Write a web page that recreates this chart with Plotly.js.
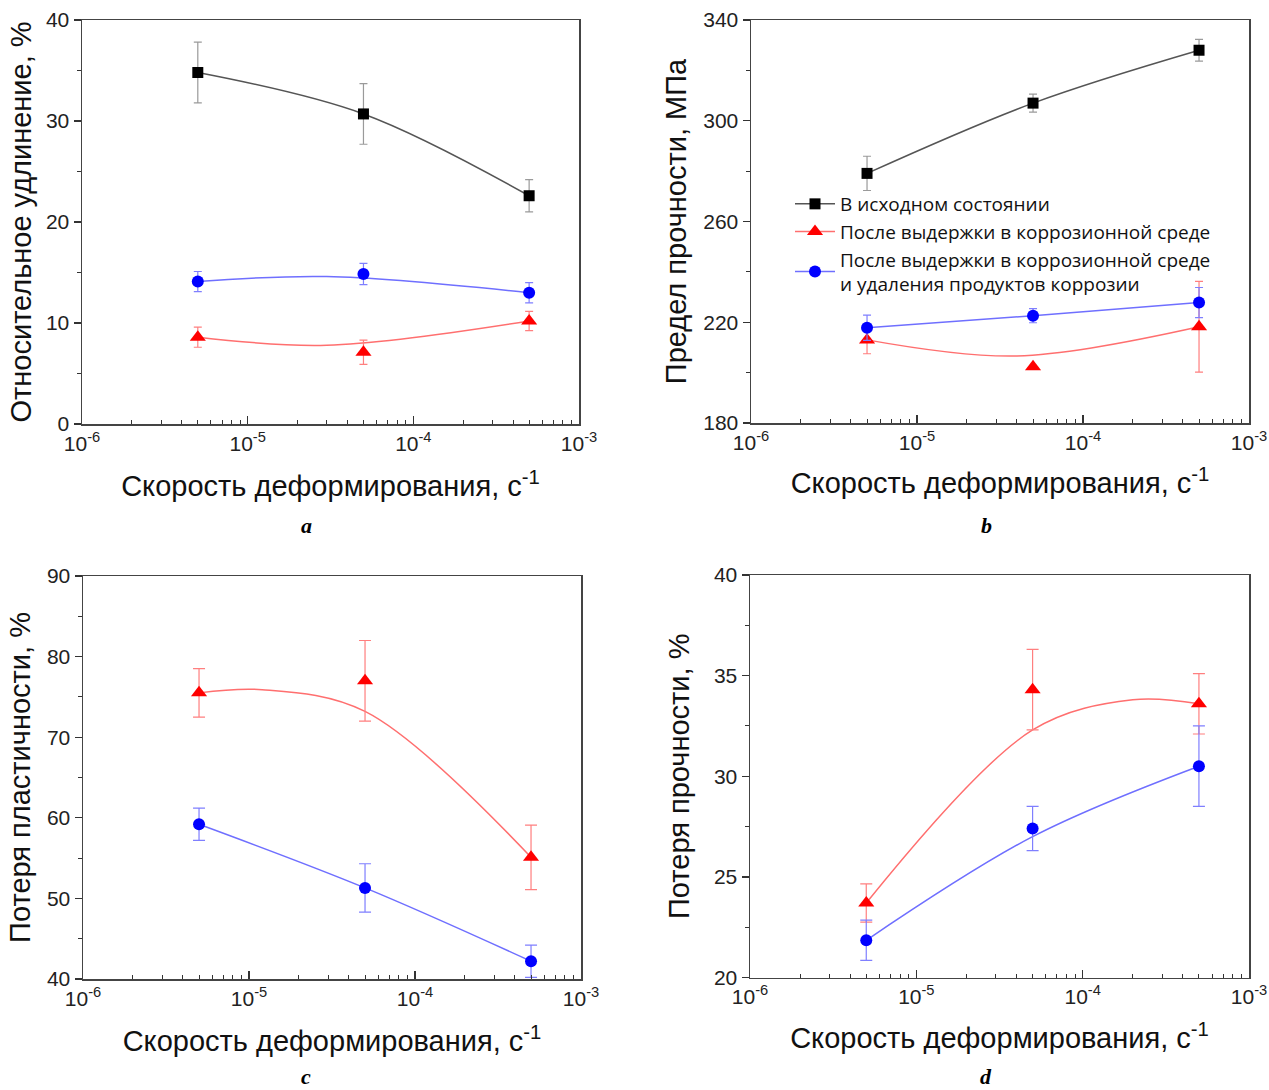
<!DOCTYPE html>
<html><head><meta charset="utf-8">
<script src="https://cdn.plot.ly/plotly-3.0.1.min.js"></script>
<style>body{margin:0;background:#fff}#chart{width:1269px;height:1090px}</style>
</head><body><div id="chart"></div>
<script>
// ---------- data ----------
const strainRate = [5e-6, 5e-5, 5e-4];
const xTickVals = [1e-6, 1e-5, 1e-4, 1e-3];
const xTickText = ['10<sup>-6</sup>', '10<sup>-5</sup>', '10<sup>-4</sup>', '10<sup>-3</sup>'];
const seriesNames = ['В исходном состоянии', 'После выдержки в коррозионной среде',
  'После выдержки в коррозионной среде<br>и удаления продуктов коррозии'];
const xTitle = 'Скорость деформирования, с<sup>-1</sup>';
const yTitles = ['Относительное удлинение, %', 'Предел прочности, МПа', 'Потеря пластичности, %', 'Потеря прочности, %'];
const panelLabels = ['a', 'b', 'c', 'd'];

// (a) elongation
const elongInitial = [34.8, 30.7, 22.6];
const elongInitialErr = [3.0, 3.0, 1.6];
const elongCorr = [8.6, 7.1, 10.2];
const elongCorrErr = [1.0, 1.2, 0.95];
const elongClean = [14.1, 14.85, 13.0];
const elongCleanErr = [1.0, 1.05, 1.0];
// smoothed curves
const elongInitialCurveX = [5e-6, 5e-5, 5e-4];
const elongInitialCurve = [34.8, 30.7, 22.6];
const elongCorrCurveX = [5e-6, 3e-5, 5e-4];
const elongCorrCurve = [8.6, 7.8, 10.2];
const elongCleanCurveX = [5e-6, 3e-5, 5e-4];
const elongCleanCurve = [14.1, 14.6, 13.0];

// (b) strength, MPa
const strengthInitial = [279.1, 307.0, 328.0];
const strengthInitialErr = [6.8, 3.6, 4.3];
const strengthCorr = [213.0, 202.3, 218.2];
const strengthCorrErr = [5.5, 0, 18.0];
const strengthClean = [217.8, 222.6, 227.8];
const strengthCleanErr = [5.0, 2.8, 6.0];
const strengthInitialCurveX = [5e-6, 5e-5, 5e-4];
const strengthInitialCurve = [279.1, 307.0, 328.0];
const strengthCorrCurveX = [5e-6, 4e-5, 5e-4];
const strengthCorrCurve = [213.0, 206.6, 218.2];
const strengthCleanCurveX = [5e-6, 5e-5, 5e-4];
const strengthCleanCurve = [217.8, 222.6, 227.8];

// (c) ductility loss, %
const ductLossCorr = [75.5, 77.0, 55.1];
const ductLossCorrErr = [3.0, 5.0, 4.0];
const ductLossClean = [59.2, 51.3, 42.2];
const ductLossCleanErr = [2.0, 3.0, 2.0];
const ductLossCorrCurveX = [5e-6, 1.2e-5, 5e-5, 5e-4];
const ductLossCorrCurve = [75.5, 75.9, 73.2, 55.1];
const ductLossCleanCurveX = [5e-6, 5e-5, 5e-4];
const ductLossCleanCurve = [59.2, 51.3, 42.2];

// (d) strength loss, %
const strLossCorr = [23.7, 34.3, 33.6];
const strLossCorrErr = [0.95, 2.0, 1.5];
const strLossClean = [21.85, 27.4, 30.5];
const strLossCleanErr = [1.0, 1.1, 2.0];
const strLossCorrCurveX = [5e-6, 5e-5, 2e-4, 5e-4];
const strLossCorrCurve = [23.7, 32.3, 33.8, 33.6];
const strLossCleanCurveX = [5e-6, 5e-5, 5e-4];
const strLossCleanCurve = [21.85, 27.0, 30.5];

// ---------- styles ----------
const STY = {
  black: {mk: '#000000', line: '#555555', err: '#9a9a9a', sym: 'square', size: 11},
  red:   {mk: '#ff0000', line: '#ff6f6f', err: '#ff7f7f', sym: 'triangle-up', size: 14},
  blue:  {mk: '#0000ff', line: '#6f6fff', err: '#7f7fff', sym: 'circle', size: 12}
};

const traces = [];
function addSeries(ax, st, cx, cy, y, err, capw) {
  const s = STY[st];
  traces.push({x: cx, y: cy, xaxis: 'x' + ax, yaxis: 'y' + ax, mode: 'lines', type: 'scatter',
    line: {shape: 'spline', smoothing: 1, color: s.line, width: 1.5}, showlegend: false, hoverinfo: 'skip'});
  traces.push({x: strainRate, y: y, xaxis: 'x' + ax, yaxis: 'y' + ax, mode: 'markers', type: 'scatter',
    marker: {symbol: s.sym, size: s.size, color: s.mk},
    error_y: {type: 'data', array: err, visible: true, color: s.err, thickness: 1.2, width: capw},
    showlegend: false});
}
addSeries('', 'black', elongInitialCurveX, elongInitialCurve, elongInitial, elongInitialErr, 4);
addSeries('', 'red', elongCorrCurveX, elongCorrCurve, elongCorr, elongCorrErr, 4);
addSeries('', 'blue', elongCleanCurveX, elongCleanCurve, elongClean, elongCleanErr, 4);
addSeries('2', 'black', strengthInitialCurveX, strengthInitialCurve, strengthInitial, strengthInitialErr, 4);
addSeries('2', 'red', strengthCorrCurveX, strengthCorrCurve, strengthCorr, strengthCorrErr, 4);
addSeries('2', 'blue', strengthCleanCurveX, strengthCleanCurve, strengthClean, strengthCleanErr, 4);
addSeries('3', 'red', ductLossCorrCurveX, ductLossCorrCurve, ductLossCorr, ductLossCorrErr, 6);
addSeries('3', 'blue', ductLossCleanCurveX, ductLossCleanCurve, ductLossClean, ductLossCleanErr, 6);
addSeries('4', 'red', strLossCorrCurveX, strLossCorrCurve, strLossCorr, strLossCorrErr, 6);
addSeries('4', 'blue', strLossCleanCurveX, strLossCleanCurve, strLossClean, strLossCleanErr, 6);

// legend entries (panel b)
['black', 'red', 'blue'].forEach((st, i) => {
  const s = STY[st];
  traces.push({x: [null], y: [null], xaxis: 'x2', yaxis: 'y2', mode: 'lines+markers', type: 'scatter',
    name: seriesNames[i], line: {color: s.line, width: 1.5},
    marker: {symbol: s.sym, size: s.size, color: s.mk}, showlegend: true});
});

// ---------- layout ----------
const W = 1269, H = 1090;
function px2x(a, b) { return [a / W, b / W]; }
function px2y(top, bot) { return [1 - bot / H, 1 - top / H]; }

const minorVals = [];
for (let e = -6; e < -3; e++) for (let m = 2; m <= 9; m++) minorVals.push(m * Math.pow(10, e));

const fontFam = '"Liberation Sans", Arial, sans-serif';
function xAxis(dom, anchor, standoff) {
  return {domain: dom, anchor: anchor, type: 'log', range: [-6, -3],
    tickmode: 'array', tickvals: xTickVals, ticktext: xTickText,
    ticks: 'inside', ticklen: 8, tickwidth: 1.3, tickcolor: '#333',
    minor: {tickmode: 'array', tickvals: minorVals, ticks: 'inside', ticklen: 4, tickwidth: 1, tickcolor: '#333', showgrid: false},
    showline: true, mirror: true, linecolor: '#444', linewidth: 1.5, showgrid: false, zeroline: false,
    tickfont: {family: fontFam, size: 21, color: '#222'},
    title: {text: xTitle, font: {family: fontFam, size: 29, color: '#111'}, standoff: standoff}};
}
function yAxis(dom, anchor, range, dtick, mdt, title, standoff) {
  return {domain: dom, anchor: anchor, range: range, dtick: dtick, tick0: range[0],
    ticks: 'outside', ticklen: 7, tickwidth: 1.3, tickcolor: '#333',
    minor: {dtick: mdt, tick0: range[0], ticks: 'outside', ticklen: 4, tickwidth: 1, tickcolor: '#333', showgrid: false},
    showline: true, mirror: true, linecolor: '#444', linewidth: 1.5, showgrid: false, zeroline: false,
    tickfont: {family: fontFam, size: 21, color: '#222'},
    title: {text: title, font: {family: fontFam, size: 29, color: '#111'}, standoff: standoff}};
}

const layout = {
  width: W, height: H, margin: {l: 0, r: 0, t: 0, b: 0},
  paper_bgcolor: '#fff', plot_bgcolor: '#fff', showlegend: true,
  xaxis:  xAxis(px2x(82, 579), 'y', 22),
  yaxis:  yAxis(px2y(20, 424), 'x', [0, 40], 10, 5, yTitles[0], 6),
  xaxis2: xAxis(px2x(751, 1249), 'y2', 20),
  yaxis2: yAxis(px2y(20, 423), 'x2', [180, 340], 40, 20, yTitles[1], 8),
  xaxis3: xAxis(px2x(83, 581), 'y3', 22),
  yaxis3: yAxis(px2y(576, 979), 'x3', [40, 90], 10, 5, yTitles[2], 8),
  xaxis4: xAxis(px2x(750, 1249), 'y4', 20),
  yaxis4: yAxis(px2y(575, 977.5), 'x4', [20, 40], 5, 2.5, yTitles[3], 16),
  legend: {x: 790 / W, y: 1 - 185 / H, xanchor: 'left', yanchor: 'top', bgcolor: 'rgba(0,0,0,0)',
    font: {family: '"Open Sans", sans-serif', size: 19, color: '#111'}, tracegroupgap: 0, itemwidth: 40},
  annotations: [[306, 525], [986, 525], [306, 1076], [986, 1076]].map((p, i) => ({
    xref: 'paper', yref: 'paper', x: p[0] / W, y: 1 - p[1] / H, xanchor: 'center', yanchor: 'middle', showarrow: false,
    text: '<b><i>' + panelLabels[i] + '</i></b>',
    font: {family: '"Liberation Serif", "Times New Roman", serif', size: 22, color: '#000'}}))
};

Plotly.newPlot('chart', traces, layout, {displayModeBar: false, staticPlot: true});
</script></body></html>
